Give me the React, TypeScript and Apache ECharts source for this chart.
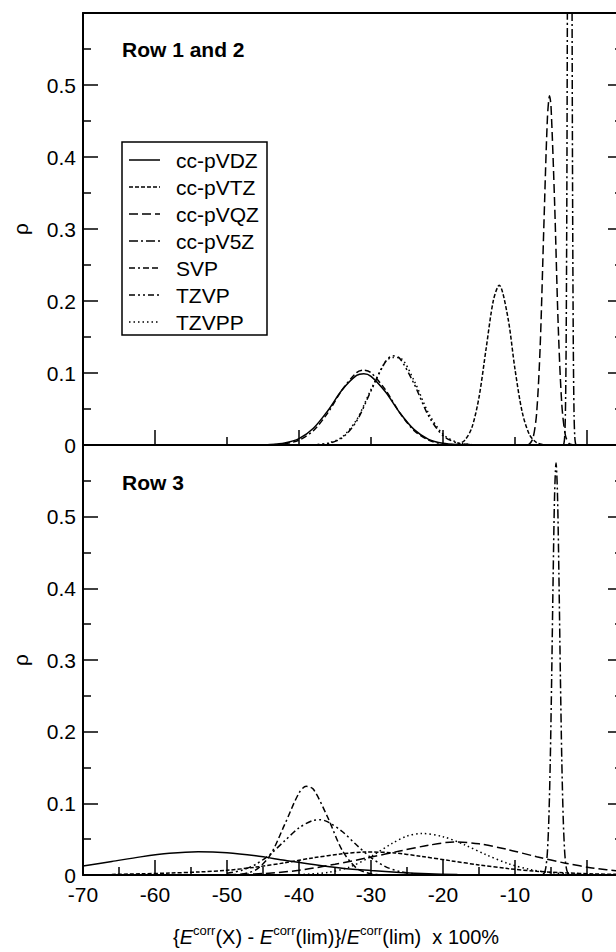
import { useEffect, useRef } from 'react';
import * as echarts from 'echarts';

const FONT = '"Liberation Sans", Arial, Helvetica, sans-serif';

// Basis-set names (legend order)
const seriesNames = ['cc-pVDZ', 'cc-pVTZ', 'cc-pVQZ', 'cc-pV5Z', 'SVP', 'TZVP', 'TZVPP'];

// Panel 1: Row 1 and 2  ([x %, rho])
const top_ccpVDZ = [[-46, 0.0001], [-44, 0.0006], [-42, 0.0027], [-40, 0.0088], [-38, 0.0232], [-36, 0.0476], [-34, 0.0766], [-32, 0.0966], [-31, 0.099], [-30, 0.0954], [-28, 0.0739], [-26, 0.0448], [-24, 0.0213], [-22, 0.0079], [-20, 0.0023], [-18, 0.0005], [-16, 0.0001]];
const top_ccpVTZ = [[-19, 0.0002], [-18, 0.0012], [-17, 0.0063], [-16, 0.0239], [-15, 0.0662], [-14, 0.1347], [-13, 0.2011], [-12.2, 0.222], [-11, 0.1778], [-10, 0.1052], [-9, 0.0457], [-8, 0.0146], [-7, 0.0034], [-6, 0.0006], [-5, 0.0001]];
const top_ccpVQZ = [[-8.5, 0.0001], [-8, 0.0014], [-7.5, 0.0095], [-7, 0.0436], [-6.5, 0.138], [-6, 0.3014], [-5.5, 0.4536], [-5.2, 0.485], [-5, 0.4708], [-4.5, 0.337], [-4, 0.1663], [-3.5, 0.0566], [-3, 0.0133], [-2.5, 0.0021], [-2, 0.0003]];
const top_ccpV5Z = [[-3.3, 0.0004], [-3.2, 0.0024], [-3.1, 0.0114], [-3.0, 0.0437], [-2.9, 0.136], [-2.8, 0.345], [-2.7, 0.711], [-2.6, 1.191], [-2.5, 1.624], [-2.4, 1.8], [-2.3, 1.624], [-2.2, 1.191], [-2.1, 0.711], [-2.0, 0.345], [-1.9, 0.136], [-1.8, 0.0437], [-1.7, 0.0114], [-1.6, 0.0024], [-1.5, 0.0004]];
const top_SVP = [[-44, 0.0003], [-42, 0.0017], [-40, 0.0067], [-38, 0.0199], [-36, 0.0447], [-34, 0.0767], [-32, 0.1005], [-31, 0.104], [-30, 0.1005], [-28, 0.0767], [-26, 0.0447], [-24, 0.0199], [-22, 0.0067], [-20, 0.0017], [-18, 0.0003]];
const top_TZVP = [[-38, 0.0003], [-36, 0.002], [-34, 0.0099], [-32, 0.0331], [-30, 0.0752], [-28, 0.1156], [-27, 0.1238], [-26, 0.1202], [-24, 0.0846], [-22, 0.0403], [-20, 0.013], [-18, 0.0028], [-16, 0.0004]];
const top_TZVPP = [[-38, 0.0003], [-36, 0.0025], [-34, 0.0112], [-32, 0.035], [-30, 0.077], [-28, 0.1155], [-27, 0.1215], [-26, 0.121], [-24, 0.089], [-22, 0.044], [-20, 0.015], [-18, 0.0034], [-16, 0.0005]];

// Panel 2: Row 3
const bot_ccpVDZ = [[-70, 0.0126], [-66, 0.0189], [-62, 0.0253], [-58, 0.0303], [-54, 0.0325], [-50, 0.0311], [-46, 0.0267], [-42, 0.0205], [-38, 0.0145], [-34, 0.0095], [-30, 0.0062], [-26, 0.0035], [-22, 0.0016], [-18, 0.0006], [-14, 0.0002]];
const bot_ccpVTZ = [[-66, 0.0008], [-62, 0.0016], [-58, 0.0027], [-54, 0.0042], [-50, 0.0065], [-46, 0.011], [-42, 0.017], [-38, 0.024], [-34, 0.0295], [-31, 0.032], [-27, 0.031], [-23, 0.026], [-19, 0.02], [-15, 0.014], [-11, 0.009], [-7, 0.0052], [-3, 0.003], [1, 0.0015], [5, 0.0008]];
const bot_ccpVQZ = [[-50, 0.0005], [-45, 0.002], [-40, 0.0065], [-35, 0.015], [-30, 0.025], [-26, 0.0335], [-22, 0.0415], [-18.5, 0.046], [-15, 0.0435], [-11, 0.0355], [-7, 0.0255], [-3, 0.0165], [1, 0.0095], [5, 0.005]];
const bot_ccpV5Z = [[-6.1, 0.0009], [-5.9, 0.0034], [-5.7, 0.0114], [-5.5, 0.032], [-5.3, 0.078], [-5.1, 0.16], [-4.9, 0.28], [-4.7, 0.418], [-4.5, 0.531], [-4.3, 0.575], [-4.1, 0.531], [-3.9, 0.418], [-3.7, 0.28], [-3.5, 0.16], [-3.3, 0.078], [-3.1, 0.032], [-2.9, 0.0114], [-2.7, 0.0034], [-2.5, 0.0009]];
const bot_SVP = [[-48, 0.0011], [-46, 0.007], [-44, 0.0277], [-42, 0.0702], [-40, 0.1144], [-39, 0.1237], [-38, 0.1196], [-36, 0.0802], [-34, 0.0345], [-32, 0.0095], [-30, 0.0017], [-28, 0.0002]];
const bot_TZVP = [[-50, 0.0023], [-48, 0.0064], [-46, 0.0149], [-44, 0.029], [-42, 0.0476], [-40, 0.0657], [-38, 0.0762], [-37, 0.077], [-36, 0.0742], [-34, 0.0607], [-32, 0.0418], [-30, 0.0242], [-28, 0.0117], [-26, 0.0048], [-24, 0.0016], [-22, 0.0005]];
const bot_TZVPP = [[-40, 0.0005], [-36, 0.0036], [-33, 0.011], [-30, 0.0258], [-27, 0.0445], [-25, 0.0543], [-23, 0.058], [-20, 0.0535], [-17, 0.0421], [-14, 0.0282], [-11, 0.0161], [-8, 0.0079], [-5, 0.0033], [-2, 0.0011], [1, 0.0004]];

const topData = [top_ccpVDZ, top_ccpVTZ, top_ccpVQZ, top_ccpV5Z, top_SVP, top_TZVP, top_TZVPP];
const botData = [bot_ccpVDZ, bot_ccpVTZ, bot_ccpVQZ, bot_ccpV5Z, bot_SVP, bot_TZVP, bot_TZVPP];

// Tick positions
const xLabelValues = [-70, -60, -50, -40, -30, -20, -10, 0];
const topLongTicks = [-60, -40, -20, 0];
const topShortTicks = [-50, -30, -10];
const botLongTicks = [-60, -50, -40, -30, -20, -10, 0];
const botShortTicks = [-65, -55, -45, -35, -25, -15, -5];

const panelLabels = ['Row 1 and 2', 'Row 3'];

// line dash styles (style, not data)
const DASHES: any[] = ['solid', [4, 2], [9, 4], [9, 3, 2, 3], [6, 3, 2, 3, 6, 3, 6, 3], [6, 3, 2, 3, 2, 3], [1.5, 3]];

export default function App() {
  const ref = useRef<HTMLDivElement>(null);
  useEffect(() => {
    if (!ref.current) return;
    const chart = echarts.init(ref.current, undefined, { renderer: 'svg' });
    const black = '#000';
    const axisLineStyle = { color: black, width: 2 };
    const tickStyle = { color: black, width: 1.5 };
    const yFmt = (v: number) => (v > 0.55 ? '' : v === 0 ? '0' : v.toFixed(1));

    const mkY = (gridIndex: number, pos: 'left' | 'right') => ({
      gridIndex,
      type: 'value',
      min: 0,
      max: 0.6,
      interval: 0.1,
      position: pos,
      axisLine: { show: pos === 'left', onZero: false, lineStyle: axisLineStyle },
      axisTick: { show: true, inside: true, length: 15, lineStyle: tickStyle },
      minorTick: { show: true, splitNumber: 2, length: 8, lineStyle: tickStyle },
      axisLabel: pos === 'left'
        ? { show: true, fontSize: 21, color: black, fontFamily: FONT, margin: 7, formatter: yFmt }
        : { show: false },
      splitLine: { show: false },
      minorSplitLine: { show: false },
      name: pos === 'left' ? 'ρ' : '',
      nameLocation: 'middle',
      nameGap: 52,
      nameMoveOverlap: false,
      nameTextStyle: { fontSize: 21, color: black, fontFamily: FONT },
    });

    const mkX = (gridIndex: number, pos: 'top' | 'bottom', line: boolean, ticks: number[] | null, len: number, labels: boolean) => ({
      gridIndex,
      type: 'value',
      min: -70,
      max: 5,
      position: pos,
      axisLine: { show: line, onZero: false, lineStyle: axisLineStyle },
      axisTick: ticks
        ? { show: true, inside: true, length: len, customValues: ticks, lineStyle: tickStyle }
        : { show: false },
      axisLabel: labels
        ? { show: true, fontSize: 21, color: black, fontFamily: FONT, margin: 9, customValues: xLabelValues, hideOverlap: false }
        : { show: false },
      splitLine: { show: false },
    });

    const series: any[] = [];
    seriesNames.forEach((name, i) => {
      const ls = { color: black, width: 1.5, type: DASHES[i] };
      series.push({ name, type: 'line', xAxisIndex: 0, yAxisIndex: 0, data: topData[i], showSymbol: false, symbol: 'none', smooth: 0.3, lineStyle: ls, clip: true });
      series.push({ name, type: 'line', xAxisIndex: 4, yAxisIndex: 2, data: botData[i], showSymbol: false, symbol: 'none', smooth: 0.3, lineStyle: ls, clip: true });
    });

    const graphic: any[] = [];
    const legX = 122, legY = 142, rowH = 27;
    graphic.push({ type: 'rect', shape: { x: legX, y: legY, width: 145, height: 193 }, style: { fill: '#fff', stroke: black, lineWidth: 1.5 }, z: 100 });
    seriesNames.forEach((name, i) => {
      const y = 160 + i * rowH;
      graphic.push({ type: 'line', shape: { x1: 129, y1: y, x2: 160, y2: y }, style: { stroke: black, lineWidth: 1.5, lineDash: DASHES[i] === 'solid' ? null : DASHES[i] }, z: 101 });
      graphic.push({ type: 'text', x: 176, y, style: { text: name, fontSize: 21, fontFamily: FONT, fill: black, verticalAlign: 'middle', align: 'left' }, z: 101 });
    });
    graphic.push({ type: 'text', x: 122, y: 49, style: { text: panelLabels[0], fontSize: 21, fontWeight: 'bold', fontFamily: FONT, fill: black, verticalAlign: 'middle' } });
    graphic.push({ type: 'text', x: 122, y: 482, style: { text: panelLabels[1], fontSize: 21, fontWeight: 'bold', fontFamily: FONT, fill: black, verticalAlign: 'middle' } });
    graphic.push({
      type: 'text', x: 336, y: 937,
      style: {
        text: '{n|{}{i|E}{s|corr}{n|(X) - }{i|E}{s|corr}{n|(lim)}}/{i|E}{s|corr}{n|(lim)  x 100%}',
        fontSize: 20, fontFamily: FONT, fill: black, lineHeight: 26,
        align: 'center', verticalAlign: 'middle',
        rich: {
          n: { fontSize: 20, fontFamily: FONT, fill: black, lineHeight: 26 },
          i: { fontSize: 20, fontFamily: FONT, fontStyle: 'italic', fill: black, lineHeight: 26 },
          s: { fontSize: 13, fontFamily: FONT, fill: black, lineHeight: 14, verticalAlign: 'top' },
        },
      },
    });

    chart.setOption({
      animation: false,
      backgroundColor: '#fff',
      grid: [
        { left: 83, top: 13, width: 540, height: 432, containLabel: false, outerBoundsMode: 'none' },
        { left: 83, top: 445, width: 540, height: 430, containLabel: false, outerBoundsMode: 'none' },
      ],
      xAxis: [
        mkX(0, 'bottom', true, topLongTicks, 15, false),
        mkX(0, 'bottom', false, topShortTicks, 8, false),
        mkX(0, 'top', true, null, 0, false),
        mkX(1, 'bottom', false, botShortTicks, 8, false),
        mkX(1, 'bottom', true, botLongTicks, 15, true),
      ],
      yAxis: [mkY(0, 'left'), mkY(0, 'right'), mkY(1, 'left'), mkY(1, 'right')],
      series,
      graphic,
    } as any);
    return () => chart.dispose();
  }, []);
  return (
    <div
      ref={ref}
      style={{ position: 'absolute', left: 0, top: 0, width: 616, height: 952, overflow: 'hidden', background: '#fff' }}
    />
  );
}
